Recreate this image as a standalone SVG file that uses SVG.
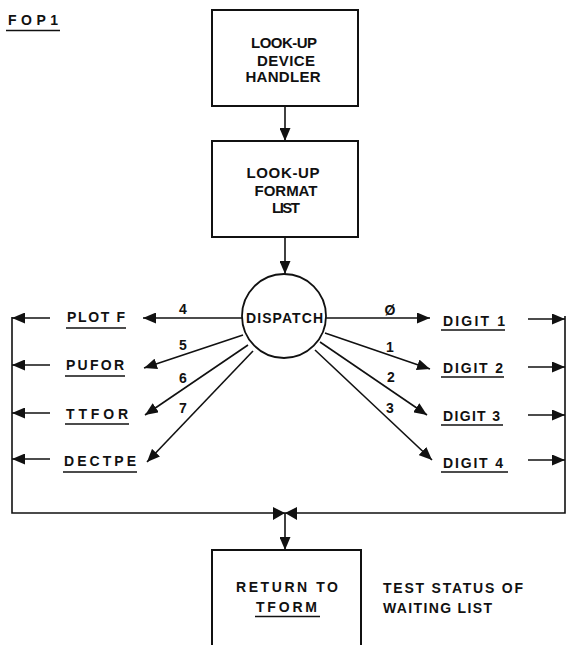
<svg xmlns="http://www.w3.org/2000/svg" width="566" height="645" viewBox="0 0 566 645">
<style>
text{font-family:"Liberation Sans",Arial,sans-serif;font-weight:bold;font-size:14px;fill:#111}
.c{text-anchor:middle}
.b{font-size:15px}
.box{fill:#fff;stroke:#111;stroke-width:2}
.ln{fill:none;stroke:#111;stroke-width:1.6}
.ul{stroke:#111;stroke-width:1.5}
.n{font-size:14px}
</style>
<defs>
<marker id="ah" markerUnits="userSpaceOnUse" markerWidth="14" markerHeight="11" refX="13" refY="5.5" orient="auto">
<path d="M0,0 L13,5.5 L0,11 z" fill="#111"/>
</marker>
</defs>
<rect width="566" height="645" fill="#fff"/>
<g id="title">
<text x="8" y="25" font-size="16" textLength="50" lengthAdjust="spacing">FOP1</text>
<line class="ul" x1="6" y1="30.5" x2="60" y2="30.5"/>
</g>
<g id="connectors">
<line class="ln" x1="285" y1="106" x2="285" y2="141" marker-end="url(#ah)"/>
<line class="ln" x1="285" y1="237" x2="285" y2="274" marker-end="url(#ah)"/>
<line class="ln" x1="242" y1="318" x2="143" y2="318" marker-end="url(#ah)"/>
<line class="ln" x1="243" y1="335" x2="144" y2="368" marker-end="url(#ah)"/>
<line class="ln" x1="248" y1="345" x2="145" y2="415" marker-end="url(#ah)"/>
<line class="ln" x1="253" y1="351" x2="147" y2="462" marker-end="url(#ah)"/>
<line class="ln" x1="326" y1="318" x2="430" y2="318" marker-end="url(#ah)"/>
<line class="ln" x1="325" y1="333" x2="430" y2="369" marker-end="url(#ah)"/>
<line class="ln" x1="320" y1="342" x2="427" y2="415" marker-end="url(#ah)"/>
<line class="ln" x1="315" y1="350" x2="432" y2="460" marker-end="url(#ah)"/>
<line class="ln" x1="50" y1="318" x2="12" y2="318" marker-end="url(#ah)"/>
<line class="ln" x1="50" y1="365" x2="12" y2="365" marker-end="url(#ah)"/>
<line class="ln" x1="50" y1="413" x2="12" y2="413" marker-end="url(#ah)"/>
<line class="ln" x1="50" y1="459" x2="12" y2="459" marker-end="url(#ah)"/>
<line class="ln" x1="528" y1="319" x2="565" y2="319" marker-end="url(#ah)"/>
<line class="ln" x1="528" y1="367" x2="565" y2="367" marker-end="url(#ah)"/>
<line class="ln" x1="528" y1="415" x2="565" y2="415" marker-end="url(#ah)"/>
<line class="ln" x1="528" y1="460" x2="565" y2="460" marker-end="url(#ah)"/>
<polyline class="ln" points="12,317 12,513 565,513 565,316"/>
<path d="M273,507 L285,513 L273,520 z M297,507 L285,513 L297,520 z" fill="#111"/>
<line class="ln" x1="285" y1="513" x2="285" y2="550" marker-end="url(#ah)"/>
<text class="n c" x="183" y="314">4</text>
<text class="n c" x="183" y="350">5</text>
<text class="n c" x="183" y="383">6</text>
<text class="n c" x="183" y="413">7</text>
<text class="n c" x="390" y="315">Ø</text>
<text class="n c" x="390" y="352">1</text>
<text class="n c" x="391" y="382">2</text>
<text class="n c" x="390" y="413">3</text>
</g>
<g id="n1">
<rect class="box" x="212" y="10" width="146" height="96"/>
<text class="c b" x="284" y="48" textLength="66" lengthAdjust="spacing">LOOK-UP</text>
<text class="c b" x="286" y="66" textLength="58" lengthAdjust="spacing">DEVICE</text>
<text class="c b" x="283" y="82" textLength="75" lengthAdjust="spacing">HANDLER</text>
</g>
<g id="n2">
<rect class="box" x="212" y="141" width="146" height="96"/>
<text class="c b" x="283" y="178" textLength="73" lengthAdjust="spacing">LOOK-UP</text>
<text class="c b" x="286" y="196" textLength="63" lengthAdjust="spacing">FORMAT</text>
<text class="c b" x="286" y="213" textLength="28" lengthAdjust="spacing">LIST</text>
</g>
<g id="dispatch">
<circle cx="284" cy="316" r="42" fill="#fff" stroke="#111" stroke-width="1.8"/>
<text class="c" x="284.5" y="323" textLength="77" lengthAdjust="spacing">DISPATCH</text>
</g>
<g id="plotf"><text x="67" y="322" textLength="58" lengthAdjust="spacing">PLOT F</text><line class="ul" x1="66" y1="328" x2="126" y2="328"/></g>
<g id="pufor"><text x="66" y="370" textLength="58" lengthAdjust="spacing">PUFOR</text><line class="ul" x1="65" y1="376" x2="125" y2="376"/></g>
<g id="ttfor"><text x="66" y="419" textLength="62" lengthAdjust="spacing">TTFOR</text><line class="ul" x1="65" y1="424" x2="129" y2="424"/></g>
<g id="dectpe"><text x="64" y="466" textLength="72" lengthAdjust="spacing">DECTPE</text><line class="ul" x1="63" y1="472" x2="137" y2="472"/></g>
<g id="digit1"><text x="443" y="326" textLength="62" lengthAdjust="spacing">DIGIT 1</text><line class="ul" x1="441" y1="330" x2="505" y2="330"/></g>
<g id="digit2"><text x="443" y="373" textLength="60" lengthAdjust="spacing">DIGIT 2</text><line class="ul" x1="441" y1="377" x2="504" y2="377"/></g>
<g id="digit3"><text x="443" y="421" textLength="57" lengthAdjust="spacing">DIGIT 3</text><line class="ul" x1="441" y1="425" x2="503" y2="425"/></g>
<g id="digit4"><text x="443" y="468" textLength="60" lengthAdjust="spacing">DIGIT 4</text><line class="ul" x1="441" y1="472" x2="508" y2="472"/></g>
<g id="n3">
<rect class="box" x="212" y="550" width="149" height="110"/>
<text class="c" x="287" y="592" textLength="102" lengthAdjust="spacing">RETURN TO</text>
<text class="c" x="286.5" y="612" textLength="61" lengthAdjust="spacing">TFORM</text>
<line class="ul" x1="255" y1="616.5" x2="320" y2="616.5"/>
</g>
<g id="note">
<text x="383" y="593" textLength="140" lengthAdjust="spacing">TEST STATUS OF</text>
<text x="383" y="613" textLength="109" lengthAdjust="spacing">WAITING LIST</text>
</g>
</svg>
